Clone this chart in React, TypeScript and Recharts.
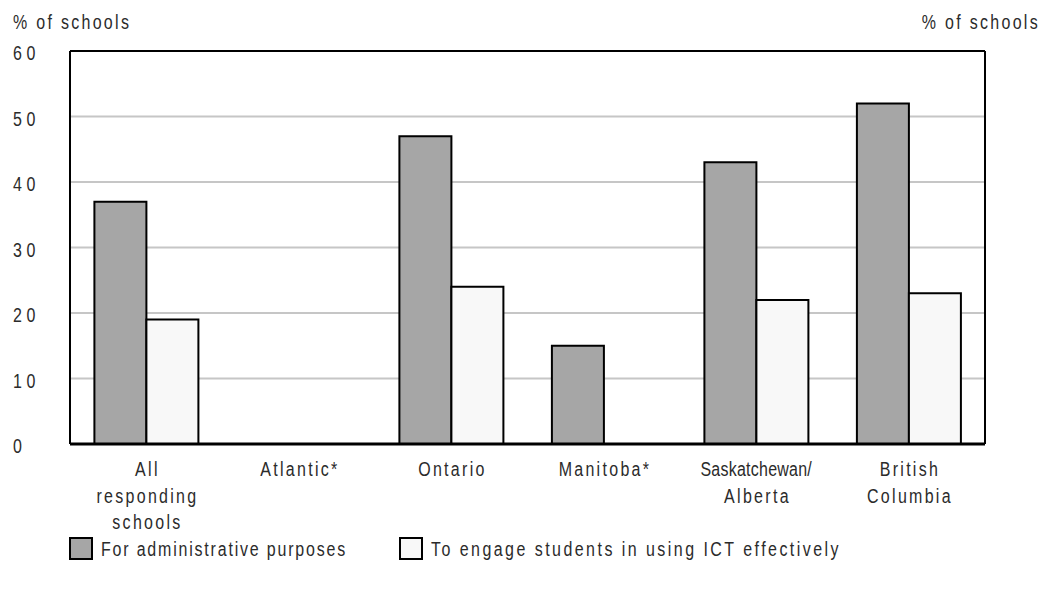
import {
  Bar,
  BarChart,
  CartesianGrid,
  Legend,
  ReferenceLine,
  XAxis,
  YAxis,
} from "recharts";

const regions = [
  "All\nresponding\nschools",
  "Atlantic*",
  "Ontario",
  "Manitoba*",
  "Saskatchewan/\nAlberta",
  "British\nColumbia",
];
const adminPct = [37, null, 47, 15, 43, 52];
const ictPct = [19, null, 24, null, 22, 23];
const yTicks = [0, 10, 20, 30, 40, 50, 60];

const seriesNames = {
  admin: "For administrative purposes",
  ict: "To engage students in using ICT effectively",
};

const data = regions.map((region, i) => ({
  region,
  admin: adminPct[i],
  ict: ictPct[i],
}));

const FONT = "'Liberation Sans', Arial, sans-serif";
const INK = "#2b2b2b";
const ADMIN_FILL = "#a6a6a6";
const ICT_FILL = "#f8f8f8";
const SQUEEZE = 0.82; // horizontal squeeze to get a condensed face
// long words are set tight so they fit under their bars
const TIGHT = ["Saskatchewan/"];

// condensed text: regular face squeezed horizontally around its anchor point
function CondText({
  x,
  y,
  anchor = "start",
  spacing = 2.8,
  size = 19.5,
  children,
}: {
  x: number;
  y: number;
  anchor?: "start" | "middle" | "end";
  spacing?: number;
  size?: number;
  children: any;
}) {
  return (
    <text
      transform={`translate(${x},${y}) scale(${SQUEEZE},1)`}
      textAnchor={anchor}
      fill={INK}
      fontFamily={FONT}
      fontSize={size}
      letterSpacing={spacing}
    >
      {children}
    </text>
  );
}

function RegionTick({ x, y, payload }: any) {
  const lines = String(payload.value).split("\n");
  return (
    <g>
      {lines.map((line, i) => (
        <CondText
          key={i}
          x={x + (TIGHT.includes(line) ? 0 : 1.2)}
          y={y + 24 + i * 26.5}
          anchor="middle"
          spacing={TIGHT.includes(line) ? 0.3 : 2.8}
        >
          {line}
        </CondText>
      ))}
    </g>
  );
}

function LeftTick({ y, payload }: any) {
  return (
    <CondText x={5} y={y + 9} spacing={5.5}>
      {payload.value}
    </CondText>
  );
}

function RightTick({ y, payload }: any) {
  return (
    <CondText x={1027} y={y + 9} spacing={5.5}>
      {payload.value}
    </CondText>
  );
}

function LegendRow() {
  const items = [
    { name: seriesNames.admin, fill: ADMIN_FILL, x: 62, spacing: 2.2 },
    { name: seriesNames.ict, fill: ICT_FILL, x: 392, spacing: 3.0 },
  ];
  return (
    <svg width={1044} height={34} style={{ display: "block" }}>
      {items.map((it) => (
        <g key={it.name}>
          <rect x={it.x} y={5} width={22} height={21} fill={it.fill} stroke="#000" strokeWidth={2} />
          <CondText x={it.x + 31} y={23} spacing={it.spacing}>
            {it.name}
          </CondText>
        </g>
      ))}
    </svg>
  );
}

export default function App() {
  return (
    <div style={{ width: 1044, height: 575, background: "#fff" }}>
      <BarChart
        width={1044}
        height={575}
        data={data}
        margin={{ top: 43, right: 0, bottom: 20, left: 0 }}
        barGap={0}
        barCategoryGap="16%"
      >
        <CartesianGrid horizontal vertical={false} stroke="#c6c6c6" strokeWidth={2} yAxisId="left" />
        <XAxis
          dataKey="region"
          height={85}
          interval={0}
          tick={<RegionTick />}
          tickLine={false}
          axisLine={{ stroke: "#000", strokeWidth: 3 }}
        />
        <YAxis
          yAxisId="left"
          orientation="left"
          width={62}
          domain={[0, 60]}
          ticks={yTicks}
          tick={<LeftTick />}
          tickLine={false}
          axisLine={{ stroke: "#000", strokeWidth: 2 }}
          label={{
            content: () => (
              <CondText x={5} y={21}>
                % of schools
              </CondText>
            ),
          }}
        />
        <YAxis
          yAxisId="right"
          orientation="right"
          width={67}
          domain={[0, 60]}
          ticks={yTicks}
          tick={<RightTick />}
          tickLine={false}
          axisLine={{ stroke: "#000", strokeWidth: 2 }}
          label={{
            content: () => (
              <CondText x={1032} y={21} anchor="end">
                % of schools
              </CondText>
            ),
          }}
        />
        <ReferenceLine yAxisId="left" y={60} stroke="#000" strokeWidth={2} />
        <Bar
          yAxisId="left"
          dataKey="admin"
          name={seriesNames.admin}
          fill={ADMIN_FILL}
          stroke="#000"
          strokeWidth={2}
          isAnimationActive={false}
        />
        <Bar
          yAxisId="left"
          dataKey="ict"
          name={seriesNames.ict}
          fill={ICT_FILL}
          stroke="#000"
          strokeWidth={2}
          isAnimationActive={false}
        />
        <Legend
          verticalAlign="bottom"
          content={() => <LegendRow />}
          wrapperStyle={{ left: 0, top: 525, bottom: "auto", width: 1044, height: 34 }}
        />
      </BarChart>
    </div>
  );
}
